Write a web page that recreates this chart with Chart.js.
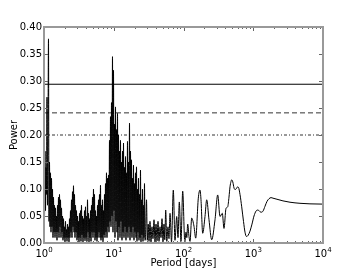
<!DOCTYPE html>
<html><head><meta charset="utf-8">
<script src="https://cdn.jsdelivr.net/npm/chart.js@4/dist/chart.umd.min.js"></script>
<style>html,body{margin:0;padding:0;background:#fff}</style>
</head><body>
<canvas id="c" width="360" height="270"></canvas>
<script>
// Periods in days (x)
const periods = [
1.000,1.017,1.034,1.051,1.068,1.086,1.104,1.122,1.141,1.160,1.179,1.199,1.219,1.239,1.260,1.281,1.302,1.324,1.346,1.368,
1.391,1.414,1.438,1.462,1.486,1.511,1.536,1.561,1.587,1.614,1.641,1.668,1.696,1.724,1.753,1.782,1.812,1.842,1.872,1.904,
1.935,1.967,2.000,2.033,2.067,2.102,2.137,2.172,2.208,2.245,2.282,2.320,2.359,2.398,2.438,2.479,2.520,2.562,2.605,2.648,
2.692,2.737,2.782,2.829,2.876,2.924,2.972,3.022,3.072,3.123,3.175,3.228,3.282,3.336,3.392,3.448,3.506,3.564,3.623,3.684,
3.745,3.807,3.871,3.935,4.001,4.067,4.135,4.204,4.274,4.345,4.417,4.491,4.565,4.641,4.719,4.797,4.877,4.958,5.041,5.124,
5.210,5.296,5.385,5.474,5.565,5.658,5.752,5.848,5.945,6.044,6.145,6.247,6.351,6.456,6.564,6.673,6.784,6.897,7.012,7.129,
7.247,7.368,7.490,7.615,7.742,7.871,8.002,8.135,8.270,8.408,8.548,8.690,8.835,8.982,9.131,9.283,9.438,9.595,9.755,9.917,
10.08,10.25,10.42,10.59,10.77,10.95,11.13,11.32,11.50,11.70,11.89,12.09,12.29,12.49,12.70,12.91,13.13,13.35,13.57,13.80,
14.02,14.26,14.50,14.74,14.98,15.23,15.48,15.74,16.00,16.27,16.54,16.82,17.10,17.38,17.67,17.96,18.26,18.57,18.88,19.19,
19.51,19.83,20.16,20.50,20.84,21.19,21.54,21.90,22.26,22.63,23.01,23.39,23.78,24.18,24.58,24.99,25.41,25.83,26.26,26.70,
27.14,27.59,28.05,
28.52,29.48,30.27,31.18,32.02,33.09,34.20,35.35,36.53,37.77,39.03,40.34,41.70,43.10,44.54,46.04,47.59,49.18,50.82,52.53,
53.94,55.56,57.62,59.95,61.96,64.05,67.30,71.42,75.51,79.89,83.39,87.06,92.08,97.39,104.4,108.6,111.5,114.9,119.9,124.0,
131.1,141.4,149.6,163.0,172.5,178.2,188.5,203.3,215.1,232.1,253.7,282.9,309.3,333.7,360.0,380.7,406.7,430.2,449.0,464.2,
479.8,491.0,509.1,529.7,547.5,575.3,594.6,614.5,645.7,683.1,724.9,761.7,800.3,840.9,898.3,959.5,1025,1095,1151,1209,
1292,1380,1474,1574,1682,1797,1919,2190,2670,3365,4680,6510,10000
];
// Periodogram power (y)
const power = [
0.19,0.05,0.17,0.06,0.14,0.09,0.27,0.07,0.20,0.378,0.04,0.15,0.03,0.13,0.02,0.12,0.03,0.10,0.01,0.085,
0.02,0.07,0.01,0.065,0.02,0.05,0.005,0.07,0.02,0.085,0.01,0.09,0.03,0.08,0.01,0.065,0.02,0.05,0.005,0.045,
0.01,0.03,0.002,0.04,0.01,0.025,0.003,0.035,0.01,0.03,0.002,0.045,0.01,0.06,0.02,0.08,0.01,0.095,0.03,0.106,
0.02,0.09,0.01,0.07,0.02,0.06,0.005,0.05,0.01,0.04,0.002,0.055,0.01,0.06,0.003,0.07,0.015,0.05,0.002,0.045,
0.01,0.06,0.004,0.067,0.01,0.05,0.003,0.08,0.02,0.055,0.002,0.045,0.01,0.06,0.003,0.07,0.02,0.085,0.01,0.1,
0.02,0.09,0.005,0.06,0.01,0.05,0.003,0.07,0.01,0.08,0.02,0.09,0.01,0.107,0.005,0.07,0.01,0.08,0.002,0.06,
0.015,0.09,0.01,0.11,0.02,0.13,0.01,0.12,0.03,0.126,0.02,0.19,0.04,0.234,0.03,0.26,0.05,0.345,0.02,0.32,
0.06,0.22,0.01,0.252,0.04,0.21,0.02,0.24,0.005,0.2,0.03,0.17,0.01,0.19,0.04,0.15,0.005,0.17,0.02,0.185,
0.01,0.14,0.03,0.16,0.005,0.13,0.02,0.188,0.01,0.15,0.03,0.222,0.005,0.17,0.02,0.154,0.01,0.12,0.03,0.144,
0.005,0.11,0.02,0.13,0.01,0.141,0.003,0.1,0.02,0.12,0.005,0.09,0.01,0.135,0.002,0.08,0.015,0.1,0.003,0.07,
0.01,0.11,0.005,
0.01,0.08,0.005,0.035,0.003,0.04,0.002,0.03,0.008,0.043,0.002,0.035,0.004,0.04,0.003,0.03,0.01,0.045,0.002,0.035,
0.006,0.061,0.003,0.03,0.008,0.055,0.002,0.098,0.005,0.049,0.01,0.076,0.003,0.096,0.002,0.02,0.01,0.035,0.012,0.003,
0.046,0.031,0.009,0.083,0.098,0.08,0.018,0.049,0.08,0.043,0.006,0.043,0.089,0.049,0.055,0.027,0.064,0.067,0.085,0.104,
0.114,0.117,0.113,0.102,0.099,0.101,0.104,0.103,0.09,0.067,0.04,0.02,0.012,0.014,0.022,0.035,0.05,0.059,0.061,0.060,
0.057,0.059,0.068,0.077,0.082,0.084,0.083,0.081,0.078,0.0755,0.0735,0.0725,0.072
];
// Significance levels (horizontal lines)
const levelSolid = 0.294;
const levelDashed = 0.241;
const levelDashDot = 0.200;
// Axis ticks
const xTickValues = [1, 10, 100, 1000, 10000];
const xTickExponents = ['0', '1', '2', '3', '4'];
const xMinorValues = [2,3,4,5,6,7,8,9,20,30,40,50,60,70,80,90,200,300,400,500,600,700,800,900,2000,3000,4000,5000,6000,7000,8000,9000];
const yTickValues = [0, 0.05, 0.10, 0.15, 0.20, 0.25, 0.30, 0.35, 0.40];

const FONT = 'DejaVu Sans';
const series = periods.map((p, i) => ({x: p, y: power[i]}));
const hline = v => [{x: xTickValues[0], y: v}, {x: xTickValues[xTickValues.length - 1], y: v}];

const mplAxes = {
  id: 'mplAxes',
  afterDraw(chart) {
    const {ctx, chartArea: a, scales: {x, y}} = chart;
    ctx.save();
    ctx.strokeStyle = '#666';
    ctx.lineWidth = 1;
    ctx.beginPath();
    yTickValues.forEach(v => {
      const py = Math.round(y.getPixelForValue(v)) + 0.5;
      ctx.moveTo(a.left, py); ctx.lineTo(a.left + 4, py);
      ctx.moveTo(a.right, py); ctx.lineTo(a.right - 4, py);
    });
    xTickValues.forEach(v => {
      const px = Math.round(x.getPixelForValue(v)) + 0.5;
      ctx.moveTo(px, a.bottom); ctx.lineTo(px, a.bottom - 4);
      ctx.moveTo(px, a.top); ctx.lineTo(px, a.top + 4);
    });
    xMinorValues.forEach(v => {
      const px = Math.round(x.getPixelForValue(v)) + 0.5;
      ctx.moveTo(px, a.bottom); ctx.lineTo(px, a.bottom - 2);
      ctx.moveTo(px, a.top); ctx.lineTo(px, a.top + 2);
    });
    ctx.stroke();
    ctx.strokeStyle = '#999';
    ctx.lineWidth = 2;
    ctx.strokeRect(a.left, a.top, a.right - a.left, a.bottom - a.top);
    // x tick labels 10^n
    ctx.fillStyle = '#000';
    ctx.textBaseline = 'alphabetic';
    ctx.textAlign = 'left';
    xTickValues.forEach((v, i) => {
      const px = x.getPixelForValue(v);
      ctx.font = '10px "' + FONT + '"';
      const w1 = ctx.measureText('10').width;
      ctx.font = '7px "' + FONT + '"';
      const w2 = ctx.measureText(xTickExponents[i]).width;
      const sx = px - (w1 + w2) / 2;
      ctx.font = '10px "' + FONT + '"';
      ctx.fillText('10', sx, a.bottom + 14);
      ctx.font = '7px "' + FONT + '"';
      ctx.fillText(xTickExponents[i], sx + w1, a.bottom + 9);
    });
    ctx.restore();
  }
};

new Chart(document.getElementById('c'), {
  type: 'scatter',
  data: {
    datasets: [
      {data: series, showLine: true, borderColor: '#000', borderWidth: 1, pointRadius: 0, cubicInterpolationMode: 'monotone'},
      {data: hline(levelSolid), showLine: true, borderColor: '#000', borderWidth: 1, pointRadius: 0},
      {data: hline(levelDashed), showLine: true, borderColor: '#333', borderWidth: 1, pointRadius: 0, borderDash: [5, 3]},
      {data: hline(levelDashDot), showLine: true, borderColor: '#333', borderWidth: 1, pointRadius: 0, borderDash: [3, 2, 1, 2]}
    ]
  },
  options: {
    responsive: false,
    animation: false,
    devicePixelRatio: 1,
    layout: {padding: {left: 0, right: 37, top: 27, bottom: 0}},
    plugins: {legend: {display: false}, tooltip: {enabled: false}},
    scales: {
      x: {
        type: 'logarithmic', min: 1, max: 10000, position: 'bottom',
        afterBuildTicks: s => { s.ticks = xTickValues.map(v => ({value: v})); },
        ticks: {display: false},
        grid: {display: false, drawTicks: false},
        border: {display: false},
        title: {display: true, text: 'Period [days]', color: '#000', font: {family: FONT, size: 10}, padding: {top: 0, bottom: 1}},
        afterFit: s => { s.height = 27; }
      },
      y: {
        min: 0, max: 0.4,
        afterBuildTicks: s => { s.ticks = yTickValues.map(v => ({value: v})); },
        ticks: {callback: v => Number(v).toFixed(2), color: '#000', font: {family: FONT, size: 10}, padding: 2},
        grid: {display: false, drawTicks: false},
        border: {display: false},
        title: {display: true, text: 'Power', color: '#000', font: {family: FONT, size: 10}, padding: {top: 8, bottom: 0}},
        afterFit: s => { s.width = 44; }
      }
    }
  },
  plugins: [mplAxes]
});
</script>
</body></html>
